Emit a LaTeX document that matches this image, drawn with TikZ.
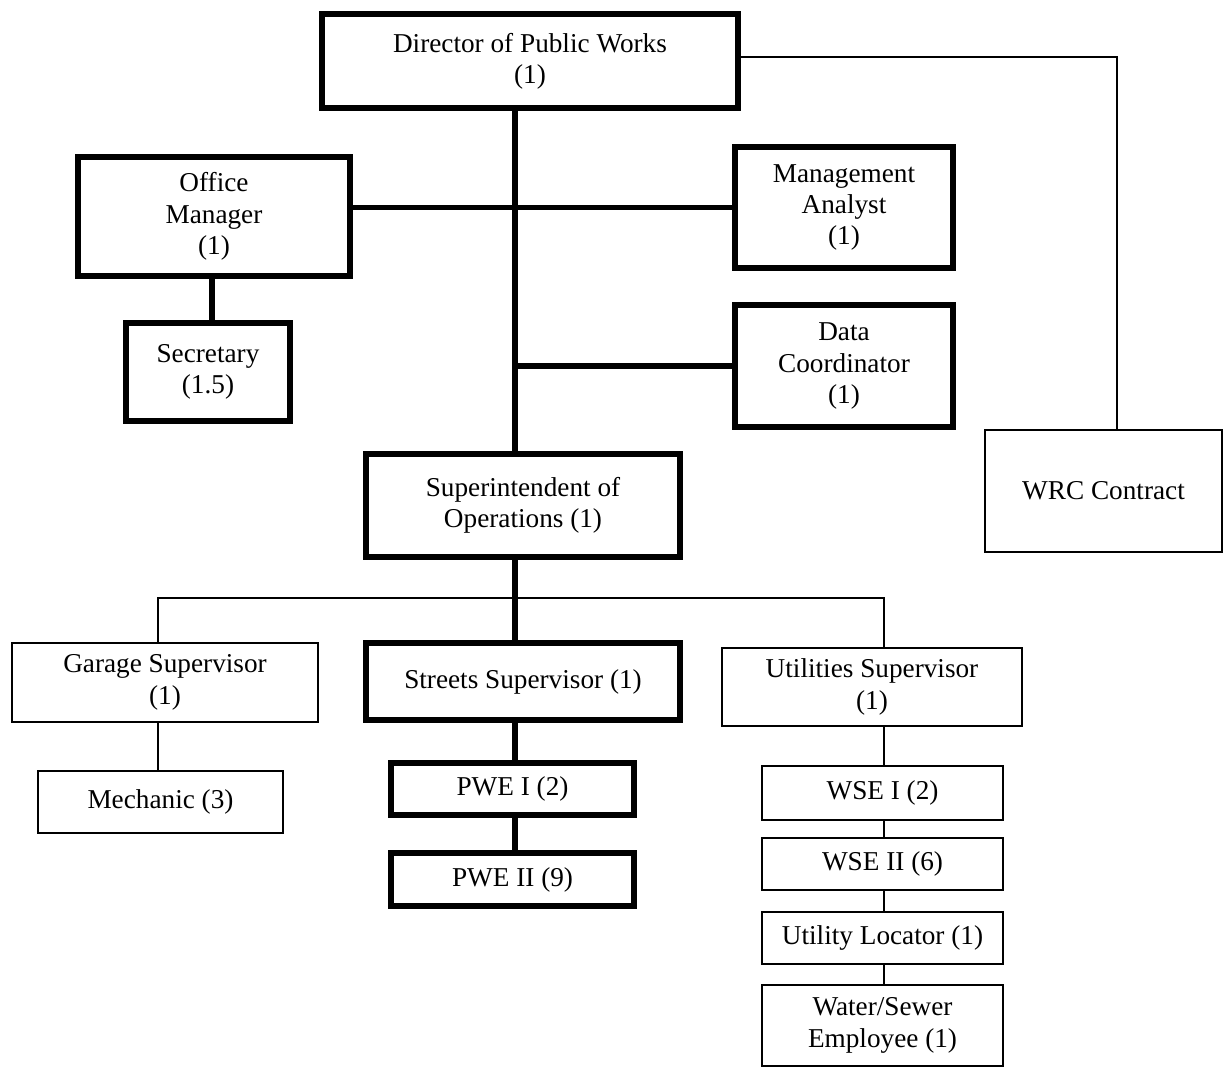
\documentclass[tikz,border=0pt]{standalone}
\usepackage{fontspec}
\setmainfont{Liberation Serif}
\begin{document}
\begin{tikzpicture}[x=0.02cm,y=-0.02cm,
  box/.style={draw=black,fill=white,inner sep=0pt,align=center,
    font=\fontsize{15.5}{17.8}\selectfont},
  sz/.style 2 args={minimum width=#1*0.02cm,minimum height=#2*0.02cm},
  thin box/.style={box,line width=1.1pt},
  thick box/.style={box,line width=3.2pt},
  thin link/.style={line width=1.1pt},
  thick link/.style={line width=3.4pt}]
\useasboundingbox (0,0) rectangle (1228,1074);
% coordinates for connector routes
\coordinate (trunk) at (515,0);
\coordinate (wrcx) at (1117,57);
\coordinate (bus) at (0,598);
\coordinate (garx) at (158,0);
\coordinate (utilx) at (884,0);
\coordinate (secx) at (212,0);

% boxes
\node[thick box,sz={416}{94}] (dir) at (530,61) {Director of Public Works\\(1)};
\node[thick box,sz={272}{119}] (om) at (214,216.5) {Office\\Manager\\(1)};
\node[thick box,sz={218}{121}] (ma) at (844,207.5) {Management\\Analyst\\(1)};
\node[thick box,sz={164}{98}] (sec) at (208,372) {Secretary\\(1.5)};
\node[thick box,sz={218}{122}] (dc) at (844,366) {Data\\Coordinator\\(1)};
\node[thin box,sz={237}{122}] (wrc) at (1103.5,491) {WRC Contract};
\node[thick box,sz={314}{103}] (sup) at (523,505.5) {Superintendent of\\Operations (1)};
\node[thin box,sz={306}{79}] (gar) at (165,682.5) {Garage Supervisor\\(1)};
\node[thick box,sz={314}{77}] (str) at (523,681.5) {Streets Supervisor (1)};
\node[thin box,sz={300}{78}] (util) at (872,687) {Utilities Supervisor\\(1)};
\node[thin box,sz={245}{62}] (mech) at (160.5,802) {Mechanic (3)};
\node[thick box,sz={243}{52}] (pwe1) at (512.5,789) {PWE I (2)};
\node[thick box,sz={243}{53}] (pwe2) at (512.5,879.5) {PWE II (9)};
\node[thin box,sz={241}{54}] (wse1) at (882.5,793) {WSE I (2)};
\node[thin box,sz={241}{52}] (wse2) at (882.5,864) {WSE II (6)};
\node[thin box,sz={241}{52}] (loc) at (882.5,938) {Utility Locator (1)};
\node[thin box,sz={241}{81}] (wse) at (882.5,1025.5) {Water/Sewer\\Employee (1)};

% connectors
\draw[thick link] (dir.south -| trunk) -- (sup.north -| trunk);
\draw[thin link] (dir.east |- wrcx) -- (wrcx) -- (wrc.north -| wrcx);
\draw[thin link] (gar.north -| garx) -- (garx |- bus) -- (utilx |- bus) -- (util.north -| utilx);
\draw[thin link] (gar.south -| garx) -- (mech.north -| garx);
\draw[thick link] (sup.south -| trunk) -- (str.north -| trunk);
\draw[thick link] (str.south -| trunk) -- (pwe1.north -| trunk);
\draw[thick link] (pwe1.south -| trunk) -- (pwe2.north -| trunk);
\draw[thin link] (util.south -| utilx) -- (wse1.north -| utilx);
\draw[thin link] (wse1.south -| utilx) -- (wse2.north -| utilx);
\draw[thin link] (wse2.south -| utilx) -- (loc.north -| utilx);
\draw[thin link] (loc.south -| utilx) -- (wse.north -| utilx);
\draw[thick link] (ma.west -| om.east) -- (ma.west);
\draw[thick link] (dc.west -| trunk) -- (dc.west);
\draw[thick link] (om.south -| secx) -- (sec.north -| secx);
\end{tikzpicture}
\end{document}
